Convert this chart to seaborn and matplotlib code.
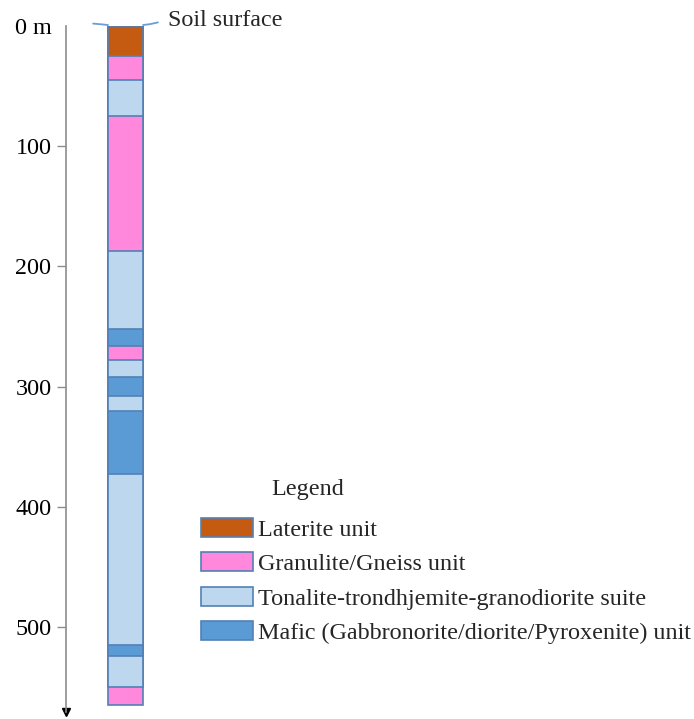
import matplotlib
matplotlib.use("Agg")
import matplotlib.pyplot as plt
from matplotlib.patches import Patch
import numpy as np
import pandas as pd
import seaborn as sns

# Borehole log: lithological units from the surface down (depth in m)
units = ["Laterite", "Granulite", "TTG", "Granulite", "TTG", "Mafic", "Granulite",
         "TTG", "Mafic", "TTG", "Mafic", "TTG", "Mafic", "TTG", "Granulite"]
layer_tops = [0, 25, 45, 75, 187, 252, 266, 278, 292, 308, 320, 373, 515, 524, 550]
layer_bottoms = [25, 45, 75, 187, 252, 266, 278, 292, 308, 320, 373, 515, 524, 550, 565]

depth_ticks = [0, 100, 200, 300, 400, 500]
depth_labels = ["0 m", "100", "200", "300", "400", "500"]

legend_units = ["Laterite", "Granulite", "TTG", "Mafic"]
legend_labels = ["Laterite unit",
                 "Granulite/Gneiss unit",
                 "Tonalite-trondhjemite-granodiorite suite",
                 "Mafic (Gabbronorite/diorite/Pyroxenite) unit"]
unit_colors = {"Laterite": "#C55A11", "Granulite": "#FF88DD",
               "TTG": "#BDD7EE", "Mafic": "#5B9BD5"}
edge_color = "#5380B5"
FS = 17.4

sns.set_theme(style="white")
plt.rcParams["font.family"] = ["Liberation Serif", "DejaVu Serif"]

fig = plt.figure(figsize=(6.94, 7.19), dpi=100)
ax = fig.add_axes([66 / 694, 1 - 712 / 719, 628 / 694, (712 - 26) / 719])

log = pd.DataFrame({"layer": [f"L{i}" for i in range(len(units))],
                    "unit": units, "top": layer_tops, "bottom": layer_bottoms,
                    "core": "core"})
# Each layer is a bar from the surface to its base; deeper layers are drawn first
# so the shallower ones cover them and the column reads as a stack.
drawn = log.sort_values("bottom", ascending=False)
palette = {row.layer: unit_colors[row.unit] for row in log.itertuples()}
sns.barplot(data=drawn, x="core", y="bottom", hue="layer",
            hue_order=list(drawn["layer"]), palette=palette, dodge=False,
            width=0.8, edgecolor=edge_color, linewidth=1.2, saturation=1,
            legend=False, ax=ax)

ax.set_xlim(-1.36, 12.99)
ax.set_ylim((712 - 26) / 1.202, 0)
ax.set_xlabel("")
ax.set_ylabel("")
ax.set_xticks([])

# depth axis
for side in ["top", "right", "bottom"]:
    ax.spines[side].set_visible(False)
ax.spines["left"].set_color("#8C8C8C")
ax.spines["left"].set_linewidth(1.2)
ax.set_yticks(depth_ticks)
ax.set_yticklabels(depth_labels, fontsize=FS, color="black")
ax.tick_params(axis="y", direction="out", length=6.5, width=1, color="#8C8C8C",
               pad=4, left=True)
ax.yaxis.get_major_ticks()[0].tick1line.set_visible(False)
ax.plot([0], [0], transform=ax.transAxes, marker="v", markersize=6,
        color="black", clip_on=False)

# soil surface marks on both sides of the column top
ax.plot([-0.74, -0.55, -0.4], [-2.0, -1.4, -0.8], color="#6A9ED4", lw=1.3,
        clip_on=False, solid_capstyle="round")
ax.plot([0.4, 0.57, 0.74], [-0.8, -1.6, -3.0], color="#6A9ED4", lw=1.3,
        clip_on=False, solid_capstyle="round")
fig.text(168 / 694, 1 - 21 / 719, "Soil surface", fontsize=FS, va="center",
         ha="left")

# legend
fig.text(308 / 694, 1 - 490 / 719, "Legend", fontsize=FS, ha="center",
         va="center")
handles = [Patch(facecolor=unit_colors[u], edgecolor=edge_color, linewidth=1.2)
           for u in legend_units]
fig.legend(handles, legend_labels, loc="upper left",
           bbox_to_anchor=(201 / 694, 1 - 518 / 719), frameon=False,
           fontsize=FS, handlelength=2.15, handleheight=0.82, handletextpad=0.2,
           labelspacing=0.48, borderpad=0, borderaxespad=0)

fig.savefig("out.png", dpi=100)
